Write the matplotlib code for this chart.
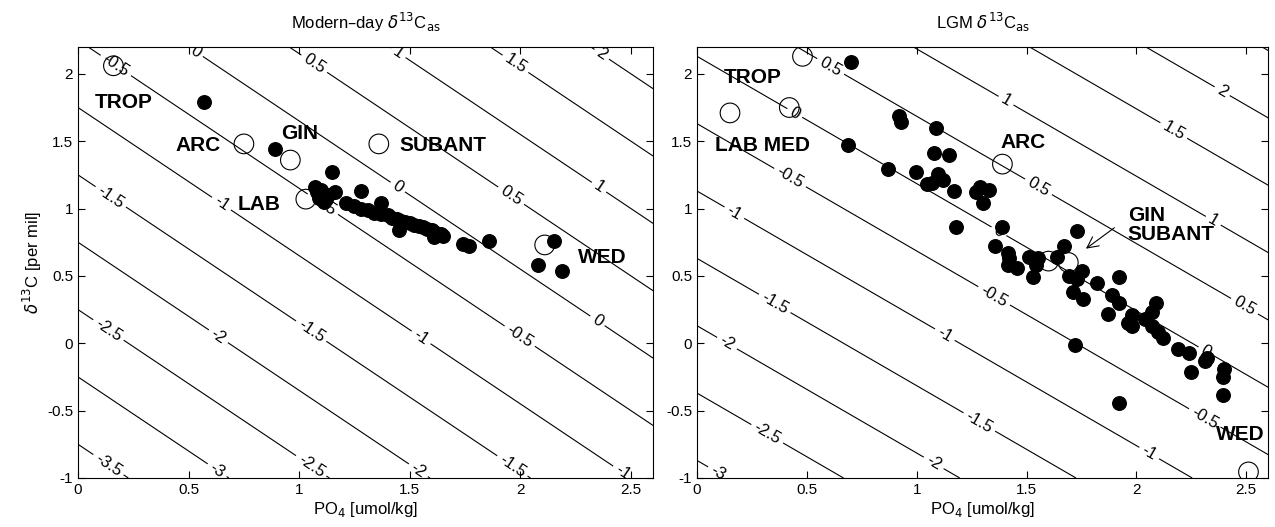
import numpy as np
import matplotlib
matplotlib.use("Agg")
import matplotlib.pyplot as plt

plt.rcParams['font.family'] = ['Liberation Sans', 'DejaVu Sans']

# contour field: d13C_as = d13C + slope*PO4 - offset
modern_slope, modern_offset = 1.1, 2.75
lgm_slope, lgm_offset = 0.945, 2.13
levels = np.arange(-4.5, 3.01, 0.5)

# ---- Modern-day data ----
mod_open_po4 = [0.16, 0.75, 0.96, 1.03, 1.36, 2.11]
mod_open_d13c = [2.06, 1.48, 1.36, 1.07, 1.48, 0.73]

mod_dot_po4 = [0.57, 0.89, 1.15, 1.28, 1.37,
               1.07, 1.08, 1.10, 1.09, 1.11, 1.13, 1.16, 1.12,
               1.21, 1.25, 1.28, 1.31, 1.34, 1.37, 1.40, 1.42, 1.44, 1.46,
               1.48, 1.50, 1.52, 1.54, 1.56, 1.58, 1.60, 1.62, 1.64, 1.65,
               1.45, 1.61, 1.74, 1.77, 1.86, 2.15, 2.08, 2.19]
mod_dot_d13c = [1.79, 1.44, 1.27, 1.13, 1.04,
                1.16, 1.12, 1.14, 1.08, 1.05, 1.10, 1.12, 1.07,
                1.04, 1.02, 1.00, 0.99, 0.97, 0.96, 0.95, 0.93, 0.92, 0.91,
                0.90, 0.89, 0.88, 0.87, 0.86, 0.85, 0.84, 0.82, 0.81, 0.80,
                0.84, 0.79, 0.74, 0.72, 0.76, 0.76, 0.58, 0.54]

mod_names = ["TROP", "ARC", "GIN", "LAB", "SUBANT", "WED"]
mod_name_x = [0.075, 0.44, 0.92, 0.72, 1.455, 2.26]
mod_name_y = [1.79, 1.47, 1.56, 1.03, 1.47, 0.64]

mod_label_pos = [(0.17, 2.06), (0.53, 2.16), (1.07, 2.08), (1.45, 2.16), (1.98, 2.08),
                 (2.37, 2.15), (0.145, 1.08), (0.65, 1.04), (1.11, 1.04), (1.45, 1.17),
                 (1.96, 1.10), (2.36, 1.17), (0.13, 0.08), (0.63, 0.04), (1.05, 0.08),
                 (1.55, 0.04), (2.0, 0.06), (2.35, 0.17), (0.13, -0.92), (0.63, -0.94),
                 (1.05, -0.92), (1.54, -0.94), (1.96, -0.92), (2.47, -0.94)]

# ---- LGM data ----
lgm_open_po4 = [0.48, 0.42, 0.15, 1.39, 1.60, 1.69, 2.51]
lgm_open_d13c = [2.13, 1.75, 1.71, 1.33, 0.61, 0.60, -0.955]

lgm_dot_po4 = [0.70, 0.686, 0.918, 0.93, 1.086, 0.868, 0.995, 1.077, 1.145, 1.095,
               1.12, 1.045, 1.07, 1.17, 1.18, 1.29, 1.27, 1.30, 1.33, 1.39,
               1.355, 1.414, 1.42, 1.414, 1.455, 1.51, 1.55, 1.545, 1.53, 1.64,
               1.67, 1.73, 1.695, 1.73, 1.75, 1.71, 1.755, 1.72, 1.82, 1.92,
               1.89, 1.92, 1.87, 1.92, 1.98, 1.96, 1.98, 2.04, 2.07, 2.09,
               2.07, 2.10, 2.12, 2.19, 2.24, 2.25, 2.31, 2.32, 2.40, 2.395,
               2.395]
lgm_dot_d13c = [2.09, 1.47, 1.69, 1.64, 1.60, 1.29, 1.27, 1.41, 1.40, 1.26,
                1.21, 1.18, 1.19, 1.13, 0.86, 1.16, 1.12, 1.04, 1.14, 0.86,
                0.72, 0.67, 0.63, 0.58, 0.56, 0.64, 0.63, 0.58, 0.49, 0.64,
                0.72, 0.83, 0.50, 0.48, 0.54, 0.38, 0.33, -0.01, 0.45, 0.49,
                0.36, 0.30, 0.22, -0.44, 0.21, 0.15, 0.13, 0.18, 0.23, 0.30,
                0.13, 0.08, 0.04, -0.04, -0.07, -0.21, -0.13, -0.11, -0.19, -0.25,
                -0.385]

lgm_names = ["TROP", "LAB MED", "ARC", "GIN\nSUBANT", "WED"]
lgm_name_x = [0.12, 0.08, 1.38, 1.96, 2.36]
lgm_name_y = [1.97, 1.47, 1.49, 0.88, -0.68]

lgm_label_pos = [(0.61, 2.06), (0.445, 1.71), (0.42, 1.22), (0.17, 0.97), (1.41, 1.81),
                 (1.55, 1.15), (2.17, 1.58), (2.39, 1.87), (2.35, 0.91), (1.37, 0.82),
                 (1.355, 0.36), (0.355, 0.30), (1.13, 0.07), (0.136, 0.0), (0.32, -0.67),
                 (1.29, -0.57), (0.095, -0.96), (1.08, -0.88), (2.49, 0.27), (2.32, -0.05),
                 (2.06, -0.81), (2.32, -0.53)]

fig = plt.figure(figsize=(12.75, 5.27), dpi=100)
ax1 = fig.add_axes([0.0612, 0.093, 0.451, 0.818])
ax2 = fig.add_axes([0.5467, 0.093, 0.448, 0.818])

xg = np.linspace(0, 2.6, 200)
yg = np.linspace(-1, 2.2, 200)
XX, YY = np.meshgrid(xg, yg)


def panel(ax, slope, offset, label_pos, opo4, od13c, dpo4, dd13c,
          names, nx, ny, title):
    Z = YY + slope * XX - offset
    cs = ax.contour(XX, YY, Z, levels=levels, colors='k', linewidths=0.8,
                    negative_linestyles='solid')
    ax.clabel(cs, manual=label_pos, inline=True, fontsize=12,
              fmt=lambda v: f"{v:g}", inline_spacing=4, zorder=6)
    ax.scatter(dpo4, dd13c, s=95, c='k', zorder=3)
    ax.scatter(opo4, od13c, s=200, facecolors='none', edgecolors='k',
               linewidths=0.8, zorder=4)
    for n, x, y in zip(names, nx, ny):
        ax.text(x, y, n, fontsize=15, fontweight='bold', va='center',
                ha='left', zorder=5, linespacing=1.0)
    ax.set_xlim(0, 2.6)
    ax.set_ylim(-1, 2.2)
    ax.set_xticks([0, 0.5, 1, 1.5, 2, 2.5])
    ax.set_xticklabels(["0", "0.5", "1", "1.5", "2", "2.5"])
    ax.set_yticks([-1, -0.5, 0, 0.5, 1, 1.5, 2])
    ax.set_yticklabels(["-1", "-0.5", "0", "0.5", "1", "1.5", "2"])
    ax.tick_params(direction='in', top=True, right=True, labelsize=11, length=5)
    ax.set_xlabel("PO$_4$ [umol/kg]", fontsize=12, labelpad=2)
    ax.set_title(title, fontsize=12, pad=13)


panel(ax1, modern_slope, modern_offset, mod_label_pos, mod_open_po4, mod_open_d13c,
      mod_dot_po4, mod_dot_d13c, mod_names, mod_name_x, mod_name_y,
      "Modern\u2013day $\\delta^{13}$C$_{\\rm as}$")
ax1.set_ylabel("$\\delta^{13}$C [per mil]", fontsize=12, labelpad=2)

panel(ax2, lgm_slope, lgm_offset, lgm_label_pos, lgm_open_po4, lgm_open_d13c,
      lgm_dot_po4, lgm_dot_d13c, lgm_names, lgm_name_x, lgm_name_y,
      "LGM $\\delta^{13}$C$_{\\rm as}$")
ax2.annotate("", xy=(1.76, 0.69), xytext=(1.91, 0.87),
             arrowprops=dict(arrowstyle='->', color='k', lw=0.8,
                             mutation_scale=20), zorder=5)

fig.savefig("out.png", dpi=100)
